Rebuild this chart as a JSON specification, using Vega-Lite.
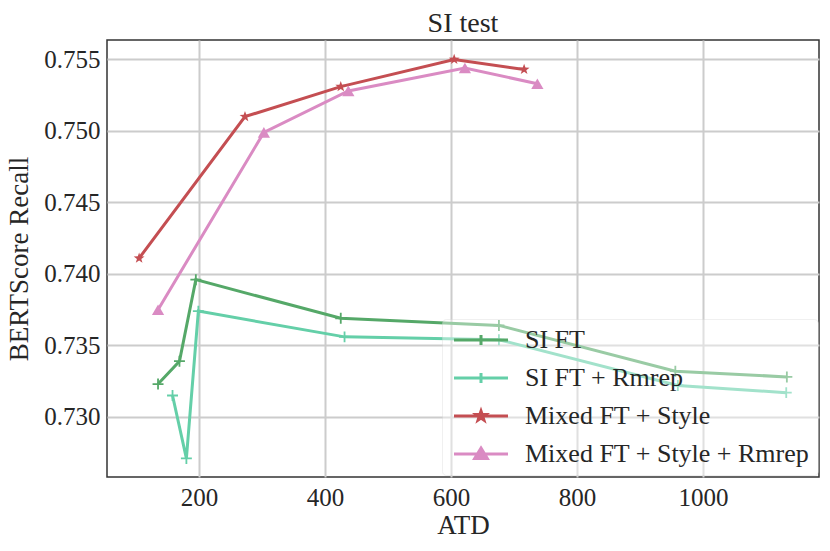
{
  "$schema": "https://vega.github.io/schema/vega-lite/v6.json",
  "autosize": {"type": "none"},
  "padding": {"left": 107, "top": 40, "right": 11, "bottom": 74},
  "width": 712,
  "height": 437,
  "background": "white",
  "title": {"text": "SI test", "frame": "group", "fontSize": 28, "fontWeight": "normal", "color": "#262626", "baseline": "alphabetic", "offset": -20},
  "data": {
    "values": [
      {"series": "SI FT", "atd": 135, "recall": 0.7323},
      {"series": "SI FT", "atd": 169, "recall": 0.7339},
      {"series": "SI FT", "atd": 195, "recall": 0.7396},
      {"series": "SI FT", "atd": 425, "recall": 0.7369},
      {"series": "SI FT", "atd": 676, "recall": 0.7364},
      {"series": "SI FT", "atd": 956, "recall": 0.7332},
      {"series": "SI FT", "atd": 1133, "recall": 0.7328},
      {"series": "SI FT + Rmrep", "atd": 158, "recall": 0.7315},
      {"series": "SI FT + Rmrep", "atd": 180, "recall": 0.7271},
      {"series": "SI FT + Rmrep", "atd": 199, "recall": 0.7374},
      {"series": "SI FT + Rmrep", "atd": 431, "recall": 0.7356},
      {"series": "SI FT + Rmrep", "atd": 676, "recall": 0.7354},
      {"series": "SI FT + Rmrep", "atd": 960, "recall": 0.7322},
      {"series": "SI FT + Rmrep", "atd": 1132, "recall": 0.7317},
      {"series": "Mixed FT + Style", "atd": 105, "recall": 0.7411},
      {"series": "Mixed FT + Style", "atd": 273, "recall": 0.7510},
      {"series": "Mixed FT + Style", "atd": 425, "recall": 0.7531},
      {"series": "Mixed FT + Style", "atd": 605, "recall": 0.7550},
      {"series": "Mixed FT + Style", "atd": 716, "recall": 0.7543},
      {"series": "Mixed FT + Style + Rmrep", "atd": 135, "recall": 0.7375},
      {"series": "Mixed FT + Style + Rmrep", "atd": 303, "recall": 0.7499},
      {"series": "Mixed FT + Style + Rmrep", "atd": 437, "recall": 0.7528},
      {"series": "Mixed FT + Style + Rmrep", "atd": 622, "recall": 0.7544},
      {"series": "Mixed FT + Style + Rmrep", "atd": 737, "recall": 0.7533}
    ]
  },
  "encoding": {
    "x": {
      "field": "atd",
      "type": "quantitative",
      "title": "ATD",
      "scale": {"domain": [54, 1184], "nice": false, "zero": false},
      "axis": {"values": [200, 400, 600, 800, 1000], "format": "d", "titleBaseline": "alphabetic", "titleY": 56}
    },
    "y": {
      "field": "recall",
      "type": "quantitative",
      "title": "BERTScore Recall",
      "scale": {"domain": [0.7258, 0.75636], "nice": false, "zero": false},
      "axis": {"values": [0.730, 0.735, 0.740, 0.745, 0.750, 0.755], "format": ".3f"}
    },
    "color": {
      "field": "series",
      "type": "nominal",
      "scale": {
        "domain": ["SI FT", "SI FT + Rmrep", "Mixed FT + Style", "Mixed FT + Style + Rmrep"],
        "range": ["#55A868", "#64CFA8", "#C44E52", "#DA8BC3"]
      },
      "legend": {
        "title": null,
        "orient": "none",
        "legendX": 335,
        "legendY": 279,
        "padding": 8,
        "fillColor": "rgba(255,255,255,0.4)",
        "strokeColor": "rgba(204,204,204,0.3)",
        "cornerRadius": 4,
        "symbolSize": 324,
        "symbolStrokeWidth": 3,
        "labelOffset": 49,
        "labelFontSize": 26,
        "labelColor": "#262626",
        "labelLimit": 400,
        "rowPadding": 12,
        "encode": {
          "symbols": {
            "update": {
              "shape": {"signal": "indexof(['SI FT','SI FT + Rmrep'], datum.value) >= 0 ? 'M-1,0L5,0M2,-0.55L2,0.55' : datum.value == 'Mixed FT + Style' ? 'M-1,0L5,0M2,-0.55L2.129,-0.178L2.523,-0.17L2.209,0.068L2.323,0.445L2,0.22L1.677,0.445L1.791,0.068L1.477,-0.17L1.871,-0.178Z' : 'M-1,0L5,0M2,-0.65L2.7,0.5L1.3,0.5Z'"},
              "fill": {"signal": "indexof(['SI FT','SI FT + Rmrep'], datum.value) >= 0 ? 'transparent' : scale('color', datum.value)"},
              "stroke": {"signal": "scale('color', datum.value)"},
              "strokeWidth": {"value": 3},
              "opacity": {"value": 1}
            }
          }
        }
      }
    }
  },
  "layer": [
    {
      "mark": {"type": "line", "strokeWidth": 3}
    },
    {
      "transform": [{"filter": "indexof(['SI FT','SI FT + Rmrep'], datum.series) >= 0"}],
      "mark": {"type": "point", "shape": "M-1,0L1,0M0,-1L0,1", "filled": false, "size": 120, "strokeWidth": 1.8, "opacity": 1}
    },
    {
      "transform": [{"filter": "datum.series == 'Mixed FT + Style'"}],
      "mark": {"type": "point", "shape": "M0,-1L0.235,-0.324L0.951,-0.309L0.38,0.124L0.588,0.809L0,0.4L-0.588,0.809L-0.38,0.124L-0.951,-0.309L-0.235,-0.324Z", "filled": true, "size": 130, "opacity": 1}
    },
    {
      "transform": [{"filter": "datum.series == 'Mixed FT + Style + Rmrep'"}],
      "mark": {"type": "point", "shape": "triangle-up", "filled": true, "size": 150, "opacity": 1}
    }
  ],
  "config": {
    "font": "Liberation Serif",
    "view": {"stroke": "#333333", "strokeWidth": 1.5},
    "axis": {
      "domain": false,
      "ticks": false,
      "grid": true,
      "gridColor": "#cccccc",
      "gridWidth": 2,
      "labelFontSize": 25,
      "labelColor": "#262626",
      "labelPadding": 8,
      "titleFontSize": 27,
      "titleFontWeight": "normal",
      "titleColor": "#262626"
    },
    "axisY": {"labelPadding": 7, "titlePadding": 10}
  }
}
